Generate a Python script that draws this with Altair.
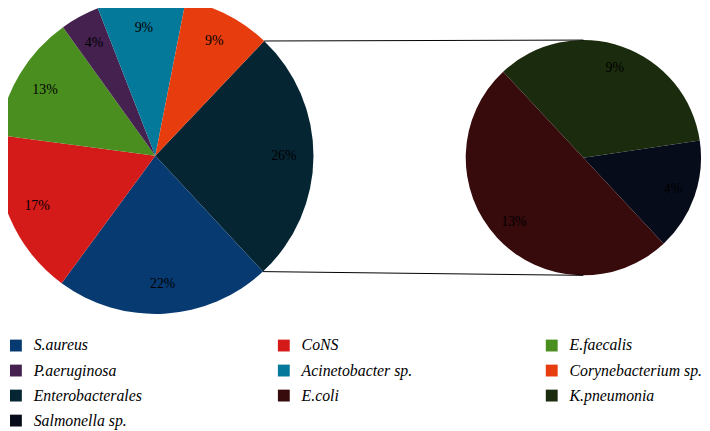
import math
import altair as alt
import pandas as pd

# ---- data ----
main_names = ["Enterobacterales", "S.aureus", "CoNS", "E.faecalis",
              "P.aeruginosa", "Acinetobacter sp.", "Corynebacterium sp."]
main_values = [26, 22, 17, 13, 4, 9, 9]

sub_names = ["K.pneumonia", "Salmonella sp.", "E.coli"]
sub_values = [9, 4, 13]

legend_order = ["S.aureus", "CoNS", "E.faecalis", "P.aeruginosa",
                "Acinetobacter sp.", "Corynebacterium sp.", "Enterobacterales",
                "E.coli", "K.pneumonia", "Salmonella sp."]
legend_colors = ["#063A70", "#D51A1A", "#4A8E1F", "#44214F", "#05799A",
                 "#E73C0D", "#052533", "#370A0C", "#1B2B0D", "#070C1A"]

# ---- layout ----
W, H = 702, 423
L_CX, L_CY, L_R, L_LR = 149, 147, 160, 130
R_CX, R_CY, R_R, R_LR = 582, 149, 119, 96
L_START = math.radians(43.5)
R_START = math.radians(317)
SERIF = "Liberation Serif"

main_df = pd.DataFrame({
    "name": main_names, "value": main_values,
    "ord": list(range(len(main_names))),
    "label": [f"{v}%" for v in main_values],
})
sub_df = pd.DataFrame({
    "name": sub_names, "value": sub_values,
    "ord": list(range(len(sub_names))),
    "label": [f"{v}%" for v in sub_values],
})

color = alt.Color("name:N",
                  scale=alt.Scale(domain=legend_order, range=legend_colors),
                  legend=alt.Legend(title=None, orient="none", legendX=0, legendY=331,
                                    direction="horizontal",
                                    columns=3, gridAlign="all", columnPadding=110,
                                    rowPadding=9.3, symbolType="square", symbolSize=144,
                                    symbolStrokeWidth=0, labelOffset=10,
                                    labelFont=SERIF, labelFontStyle="italic",
                                    labelFontSize=16, labelColor="#000000",
                                    labelLimit=300))


def pie(df, cx, cy, r, lr, start):
    theta = alt.Theta("value:Q", stack=True,
                      scale=alt.Scale(range=[start, start + 2 * math.pi]))
    arc = alt.Chart(df).mark_arc(x=cx, y=cy, radius=r).encode(
        theta=theta, color=color, order=alt.Order("ord:Q"))
    txt = alt.Chart(df).mark_text(x=cx, y=cy, radius=lr, font=SERIF,
                                  fontSize=14, color="#000000").encode(
        theta=theta, text="label:N", detail="name:N", order=alt.Order("ord:Q"))
    return alt.layer(arc, txt)


left = pie(main_df, L_CX, L_CY, L_R, L_LR, L_START)
right = pie(sub_df, R_CX, R_CY, R_R, R_LR, R_START)

# connector lines from the Enterobacterales slice edges to the sub pie
frac = main_values[0] / sum(main_values)
a1, a2 = L_START, L_START + frac * 2 * math.pi
conn_df = pd.DataFrame({
    "x": [L_CX + L_R * math.sin(a1), L_CX + L_R * math.sin(a2)],
    "y": [L_CY - L_R * math.cos(a1), L_CY - L_R * math.cos(a2)],
    "x2": [R_CX, R_CX],
    "y2": [R_CY - R_R, R_CY + R_R],
})
rules = alt.Chart(conn_df).mark_rule(color="#000000", strokeWidth=1).encode(
    x=alt.X("x:Q", scale=None, axis=None),
    y=alt.Y("y:Q", scale=None, axis=None),
    x2="x2:Q", y2="y2:Q")

chart = alt.layer(left, right, rules).resolve_scale(theta="independent").properties(
    width=W, height=H, padding=0,
    autosize=alt.AutoSizeParams(type="none"),
).configure_view(stroke=None)

chart.save("out.html", embed_options={"renderer": "svg", "actions": False})
